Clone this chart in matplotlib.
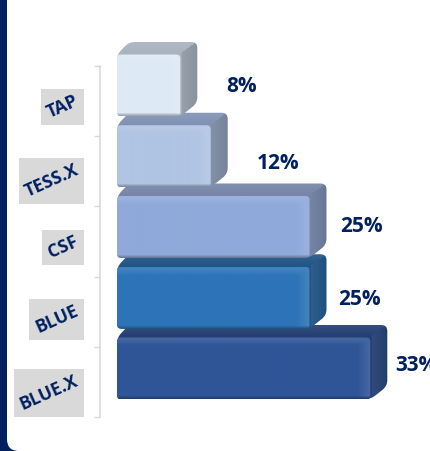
import numpy as np
import matplotlib
matplotlib.use("Agg")
import matplotlib.pyplot as plt
from matplotlib.patches import PathPatch, Rectangle, FancyBboxPatch
from matplotlib.path import Path
from matplotlib.transforms import IdentityTransform

plt.rcParams['font.family'] = ['Open Sans', 'DejaVu Sans']

# bottom to top
categories = ["BLUE.X", "BLUE", "CSF", "TESS.X", "TAP"]
shares = [33, 25, 25, 12, 8]

NAVY = "#002060"
front_colors = ["#2F5597", "#2C74B7", "#8FA9DA", "#B0C4E3", "#DEE9F6"]
top_colors = ["#243F73", "#205586", "#7685A8", "#8192B5", "#A9B3BE"]
side_colors = ["#233E70", "#1F5284", "#6B7B9B", "#78889F", "#8E98A4"]

# label placement, pixels
value_offsets = [8, 12, 14, 29, 29]
value_nudge = [16, 12, 15, 8, 15]
name_nudge = [-11, -8, -6, -10, -6]

W, H = 430, 451
PX_X = 7.6    # px per percent
PX_Y = 70.2   # px per category
ZERO_X = 119.5
BOTTOM_Y = 417
BOTTOM_Y_UP = H - BOTTOM_Y
DEPTH_X, DEPTH_Y = 17, 12.5
FRONT_H = 62
BAR_LIFT = 18.5


def mix(c, other, t):
    return np.array(matplotlib.colors.to_rgb(c)) * (1 - t) + np.array(other) * t


def rounded(pts, r):
    # closed path through pts (pixel units) with rounded corners
    pts = np.array(pts, float)
    verts, codes = [], []
    n = len(pts)
    for i in range(n):
        p, a, b = pts[i], pts[i - 1], pts[(i + 1) % n]
        u = (a - p) / np.hypot(*(a - p))
        v = (b - p) / np.hypot(*(b - p))
        verts += [p + u * r, p, p + v * r]
        codes += [Path.LINETO, Path.CURVE3, Path.CURVE3]
    codes[0] = Path.MOVETO
    verts.append(verts[0])
    codes.append(Path.CLOSEPOLY)
    return Path(np.array(verts), codes)


def to_data(path):
    # pixel units (y up) to percent / category units
    v = path.vertices.copy()
    v[:, 0] = (v[:, 0] - ZERO_X) / PX_X
    v[:, 1] = (v[:, 1] - BOTTOM_Y_UP) / PX_Y - 0.5
    return Path(v, path.codes)


def draw_face(ax, path_px, img, zorder):
    patch = PathPatch(to_data(path_px), fc="none", ec="none", zorder=zorder)
    ax.add_patch(patch)
    x0, y0 = path_px.vertices.min(axis=0)
    x1, y1 = path_px.vertices.max(axis=0)
    extent = [(x0 - ZERO_X) / PX_X, (x1 - ZERO_X) / PX_X,
              (y0 - BOTTOM_Y_UP) / PX_Y - 0.5, (y1 - BOTTOM_Y_UP) / PX_Y - 0.5]
    im = ax.imshow(img, extent=extent, origin="lower", aspect="auto",
                   interpolation="bilinear", zorder=zorder)
    im.set_clip_path(patch)


def back_image(w, h, fw, fh, top_c, side_c):
    # top and side faces of the block, split along the corner diagonal
    yy, xx = np.mgrid[0:int(h), 0:int(w)]
    dx = xx - fw
    dy = yy - fh
    is_side = (dx > 0) & (dx / DEPTH_X > dy / DEPTH_Y)
    t = np.clip(dy / DEPTH_Y, 0, 1)[..., None]
    s = np.clip(dx / DEPTH_X, 0, 1)[..., None]
    top_rgb = mix(top_c, (1, 1, 1), 0.0) * (1 - t) + mix(top_c, (1, 1, 1), 0.1) * t
    side_rgb = mix(side_c, (1, 1, 1), 0.07) * (1 - s) + mix(side_c, (0, 0, 0), 0.04) * s
    return np.where(is_side[..., None], side_rgb, top_rgb)


def front_image(w, h, c):
    base = mix(c, (1, 1, 1), 0)
    light = mix(c, (1, 1, 1), 0.1)
    dark = mix(c, (0, 0, 0), 0.28)
    h, w = int(h), int(w)
    img = np.tile(base, (h, w, 1))
    # lower edge, upper bevel and right bevel (rows run bottom up)
    y = np.arange(h)
    up = np.clip((y - (h - 9)) / 6, 0, 1)[:, None, None]
    low = np.clip((3 - y) / 3, 0, 1)[:, None, None]
    x = np.arange(w)
    right = np.clip((x - (w - 14)) / 11, 0, 1)[None, :, None]
    img = img * (1 - right) + light * right
    img = img * (1 - up) + light * up
    img = img * (1 - low) + dark * low
    return img


fig = plt.figure(figsize=(W / 100, H / 100), dpi=100)
ax = fig.add_axes([0, 0, 1, 1], facecolor="none")

# navy frame with the white panel's rounded corner
ax.add_patch(Rectangle((0, 0), W, H, transform=IdentityTransform(), fc=NAVY, ec="none", zorder=0))
ax.add_patch(FancyBboxPatch((19, 12), W + 40, H + 40, boxstyle="round,pad=12,rounding_size=12",
                            transform=IdentityTransform(), fc="white", ec="none", zorder=0.5))

for i, v in enumerate(shares):
    left = ZERO_X - 2.5
    right = ZERO_X + v * PX_X
    bottom = BOTTOM_Y_UP + i * 70.75 + BAR_LIFT - 1
    top = bottom + FRONT_H
    z = 2 + i * 0.1
    outline = [(left, bottom), (left, top), (left + 12, top + DEPTH_Y),
               (right + DEPTH_X, top + DEPTH_Y), (right + DEPTH_X, bottom + DEPTH_Y + 1), (right, bottom)]
    bw, bh = right + DEPTH_X - left, FRONT_H + DEPTH_Y
    draw_face(ax, rounded(outline, 6), back_image(bw, bh, right - left, FRONT_H, top_colors[i], side_colors[i]), z)
    front = [(left, bottom), (left, top), (right, top), (right, bottom)]
    draw_face(ax, rounded(front, 4), front_image(right - left, FRONT_H, front_colors[i]), z + 0.05)

    ax.annotate(f"{v}%", xy=(v, i), xytext=(DEPTH_X + value_offsets[i], value_nudge[i]),
                textcoords="offset pixels", ha="left", va="center", fontsize=15,
                fontweight="bold", color=NAVY, zorder=5, annotation_clip=False)

ax.set_xlim(-ZERO_X / PX_X, (W - ZERO_X) / PX_X)
ax.set_ylim(-0.5 - BOTTOM_Y_UP / PX_Y, -0.5 + (H - BOTTOM_Y_UP) / PX_Y)

# category axis: light rail with ticks between the groups
axis_x = (100 - ZERO_X) / PX_X
for side in ["top", "right", "bottom"]:
    ax.spines[side].set_visible(False)
ax.spines["left"].set_position(("data", axis_x))
ax.spines["left"].set_bounds(-0.5, len(categories) - 0.5)
ax.spines["left"].set_color("#D9D9D9")
ax.spines["left"].set_linewidth(1.2)
ax.spines["left"].set_zorder(1)
ax.set_yticks(np.arange(len(categories) + 1) - 0.5)
ax.set_yticklabels([])
ax.tick_params(axis="y", length=4.5, width=1.0, color="#D9D9D9", zorder=1)
ax.set_xticks([])

# rotated names, each on a grey box fitted to the rotated text
names = []
for i, name in enumerate(categories):
    t = ax.annotate(name, xy=(axis_x, i), xytext=(-19, name_nudge[i]), textcoords="offset pixels",
                    ha="right", va="center", rotation=24, fontsize=12.8, fontweight="bold",
                    color=NAVY, zorder=3, annotation_clip=False)
    names.append(t)

fig.canvas.draw()
renderer = fig.canvas.get_renderer()
for t in names:
    bb = t.get_window_extent(renderer)
    ax.add_patch(Rectangle((bb.x0 - 3, bb.y0 - 3), bb.width + 6, bb.height + 6,
                           transform=IdentityTransform(), fc="#D9D9D9", ec="none", zorder=2))

fig.savefig("out.png", dpi=100)
